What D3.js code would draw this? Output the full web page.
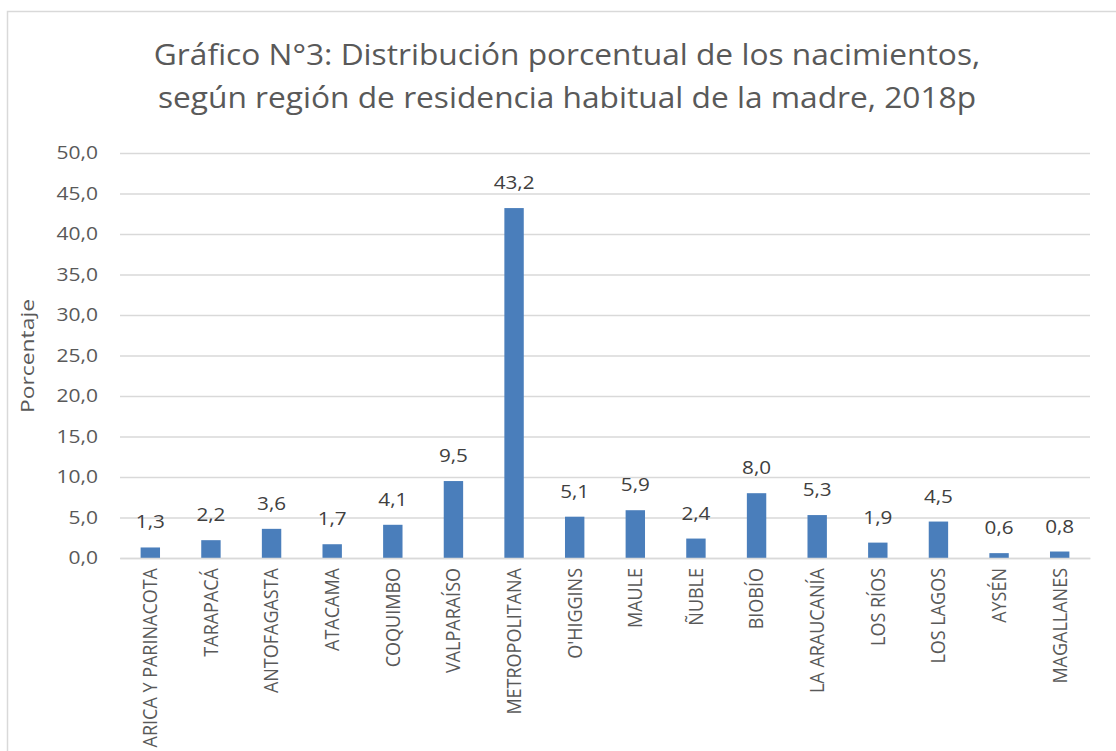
<!DOCTYPE html>
<html>
<head>
<meta charset="utf-8">
<script src="https://cdn.jsdelivr.net/npm/d3@7"></script>
<style>
  html, body { margin: 0; padding: 0; background: #ffffff; }
  svg { display: block; }
  text { font-family: "Open Sans", "Noto Sans", sans-serif; }
</style>
</head>
<body>
<svg id="chart" width="1116" height="751"></svg>
<script>
const categories = ["ARICA Y PARINACOTA", "TARAPACÁ", "ANTOFAGASTA", "ATACAMA", "COQUIMBO", "VALPARAÍSO", "METROPOLITANA", "O'HIGGINS", "MAULE", "ÑUBLE", "BIOBÍO", "LA ARAUCANÍA", "LOS RÍOS", "LOS LAGOS", "AYSÉN", "MAGALLANES"];
const values = [1.3, 2.2, 3.6, 1.7, 4.1, 9.5, 43.2, 5.1, 5.9, 2.4, 8.0, 5.3, 1.9, 4.5, 0.6, 0.8];
const yTicks = [0, 5, 10, 15, 20, 25, 30, 35, 40, 45, 50];
const titleLines = ["Gráfico N°3: Distribución porcentual de los nacimientos,", "según región de residencia habitual de la madre, 2018p"];
const yAxisTitle = "Porcentaje";

const svg = d3.select("#chart");
const W = 1116, H = 751;
const plot = { left: 120, right: 1090, top: 153, bottom: 558 };

// chart border (cropped at right/bottom)
svg.append("rect")
  .attr("x", 7.5).attr("y", 11.5)
  .attr("width", W + 20).attr("height", H + 20)
  .attr("fill", "#ffffff").attr("stroke", "#d9d9d9").attr("stroke-width", 1.5);

const fmt = v => d3.format(".1f")(v).replace(".", ",");

const x = d3.scaleBand().domain(categories).range([plot.left, plot.right]).paddingInner(0.68).paddingOuter(0.34);
const y = d3.scaleLinear().domain([0, 50]).range([plot.bottom, plot.top]);

// title
svg.append("g").selectAll("text").data(titleLines).join("text")
  .attr("transform", (d, i) => `translate(567,${65 + i * 42.5}) scale(1.074,1)`)
  .attr("text-anchor", "middle")
  .attr("font-size", 29.5).attr("fill", "#595959")
  .text(d => d);

// gridlines + y tick labels
const yAxis = d3.axisLeft(y).tickValues(yTicks).tickSize(-(plot.right - plot.left)).tickPadding(0).tickFormat(fmt);
const gy = svg.append("g").attr("transform", `translate(${plot.left},0)`).call(yAxis);
gy.select(".domain").remove();
gy.selectAll(".tick line").attr("stroke", "#d9d9d9").attr("stroke-width", 1.5);
gy.selectAll(".tick text")
  .attr("x", 0)
  .attr("transform", "translate(-22,0) scale(1.2,1)")
  .attr("font-size", 17.5).attr("fill", "#595959").attr("font-family", "'Open Sans', sans-serif");

// y axis title
svg.append("text")
  .attr("transform", `translate(34,356) rotate(-90) scale(1.27,1)`)
  .attr("text-anchor", "middle")
  .attr("font-size", 18).attr("fill", "#595959")
  .text(yAxisTitle);

// bars
svg.append("g").selectAll("rect").data(values).join("rect")
  .attr("x", (d, i) => x(categories[i]))
  .attr("width", x.bandwidth())
  .attr("y", d => y(d))
  .attr("height", d => y(0) - y(d))
  .attr("fill", "#4a7ebb");

// data labels
svg.append("g").selectAll("text").data(values).join("text")
  .attr("transform", (d, i) => `translate(${x(categories[i]) + x.bandwidth() / 2},${y(d) - 19}) scale(1.15,1)`)
  .attr("text-anchor", "middle")
  .attr("font-size", 18).attr("fill", "#404040")
  .text(d => fmt(d));

// x axis (category labels)
const xAxis = d3.axisBottom(x).tickSize(0).tickPadding(0);
const gx = svg.append("g").attr("transform", `translate(0,${plot.bottom})`).call(xAxis);
gx.select(".domain").attr("stroke", "#d9d9d9").attr("stroke-width", 1.5);
gx.selectAll(".tick text")
  .attr("font-size", 18).attr("fill", "#595959").attr("font-family", "'Open Sans', sans-serif")
  .attr("text-anchor", "end")
  .attr("dy", "0.35em")
  .attr("transform", "translate(0,10) scale(1.1,1) rotate(-90)")
  .attr("x", 0).attr("y", 0);
</script>
</body>
</html>
